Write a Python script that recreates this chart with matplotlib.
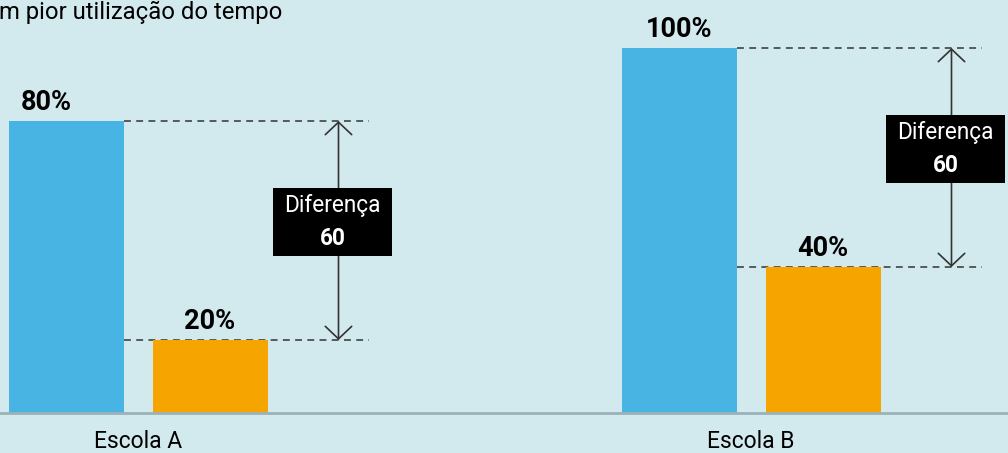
import matplotlib
matplotlib.use("Agg")
import matplotlib.pyplot as plt
from matplotlib.patches import FancyArrowPatch, Rectangle

# Dados
escolas = ['Escola A', 'Escola B']
serie_azul = [80, 100]
serie_laranja = [20, 40]
titulo = 'm pior utilização do tempo'

# Cores
FUNDO = '#d2e9ee'
AZUL = '#48b4e4'
LARANJA = '#f5a400'
ESCURO = '#333333'

plt.rcParams['font.family'] = ['Roboto', 'DejaVu Sans']

fig = plt.figure(figsize=(10.08, 4.53), dpi=100, facecolor=FUNDO)
ax = fig.add_axes([0, 0, 1, 1])
ax.set_facecolor(FUNDO)

# eixo x em pixels, eixo y em percentagem (0 na linha de base)
px_por_pct = 3.65
ax.set_xlim(0, 1008)
ax.set_ylim(-(453 - 413) / px_por_pct, 413 / px_por_pct)
ax.axis('off')

centros = [138, 751]
largura = 115
desloc = 72
desloc_rotulo = [-20, 0]

for i, nome in enumerate(escolas):
    c = centros[i]
    xa, xl = c - desloc, c + desloc
    ax.bar(xa, serie_azul[i], width=largura, color=AZUL, zorder=2)
    ax.bar(xl, serie_laranja[i], width=largura, color=LARANJA, zorder=2)

    # rótulos de valor
    ax.annotate(f'{serie_azul[i]}%', (xa + desloc_rotulo[i], serie_azul[i]),
                xytext=(0, 3.5), textcoords='offset points', ha='center', va='bottom',
                fontsize=19.5, fontweight='bold', color='black')
    ax.annotate(f'{serie_laranja[i]}%', (xl, serie_laranja[i]),
                xytext=(0, 3.5), textcoords='offset points', ha='center', va='bottom',
                fontsize=19.5, fontweight='bold', color='black')

    # linhas tracejadas
    x0 = xa + largura / 2
    for v in (serie_azul[i], serie_laranja[i]):
        ax.plot([x0, x0 + 245], [v, v], color=ESCURO, lw=1.1,
                dashes=(4.5, 3.5), zorder=1)

    # seta dupla
    xs = x0 + 215
    seta = FancyArrowPatch((xs, serie_laranja[i]), (xs, serie_azul[i]),
                           arrowstyle='<->,head_length=9,head_width=9.5',
                           color=ESCURO, lw=1.2, mutation_scale=1, zorder=3,
                           shrinkA=0, shrinkB=0)
    ax.add_patch(seta)

    # caixa "Diferença"
    dif = serie_azul[i] - serie_laranja[i]
    meio = (serie_azul[i] + serie_laranja[i]) / 2 + 2.3
    bw, bh = 119, 68 / px_por_pct
    ax.add_patch(Rectangle((xs - 6 - bw / 2, meio - bh / 2), bw, bh,
                           facecolor='black', edgecolor='none', zorder=4))
    ax.text(xs - 6, meio + 4.5, 'Diferença', ha='center', va='center',
            fontsize=16.3, color='white', zorder=5)
    ax.text(xs - 6, meio - 4.5, str(dif), ha='center', va='center',
            fontsize=16.3, fontweight='bold', color='white', zorder=5)

    # nome da escola
    ax.text(c, -(441 - 413) / px_por_pct, nome, ha='center', va='center',
            fontsize=16.5, color='black')

# linha de base
ax.axhline(0, color='#9bb3b8', lw=2, zorder=3)

# título (cortado à esquerda)
ax.text(-1, 413 / px_por_pct - 1 / px_por_pct, titulo, ha='left', va='top',
        fontsize=17.2, color='black')

fig.savefig('out.png', dpi=100, facecolor=FUNDO)
